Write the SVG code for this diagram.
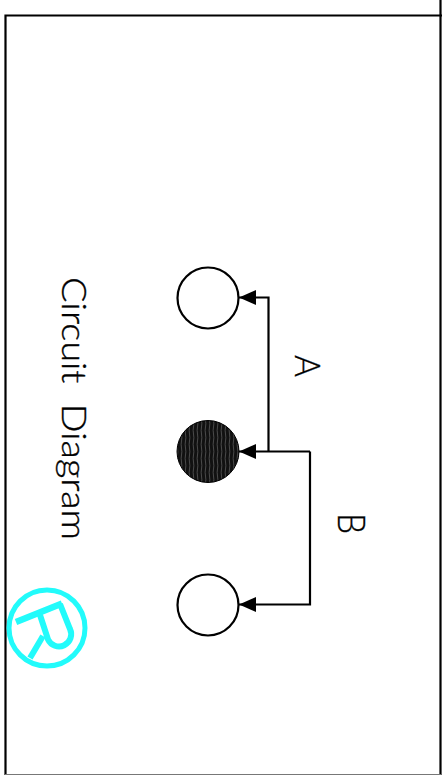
<svg xmlns="http://www.w3.org/2000/svg" width="446" height="775" viewBox="0 0 446 775">
<style>
.wire{fill:none;stroke:#000;stroke-width:2.200}
.node{fill:#fff;stroke:#000;stroke-width:2.200}
.lbl{font-family:"Lato","Liberation Sans",sans-serif;font-weight:300;fill:#000;stroke:#000;stroke-width:0.350}
.r{fill:none;stroke:#22fbfb}
</style>
<defs>
<marker id="arrow" markerUnits="userSpaceOnUse" markerWidth="18" markerHeight="16" refX="17" refY="8" orient="auto"><path d="M0 0.500L17 8L0 15.500Z" fill="#000"/></marker>
<pattern id="hatch" width="4" height="14" patternUnits="userSpaceOnUse"><rect width="4" height="14" fill="#111"/><path d="M1.500 0Q2.200 4 1.500 7T1.500 14" fill="none" stroke="#4a4a4a" stroke-width="1"/></pattern>
</defs>
<rect width="446" height="775" fill="#fff"/>
<g id="frame">
<path d="M5.500 775V15.500H442" fill="none" stroke="#000" stroke-width="2.200"/>
<path d="M440.500 0V775" fill="none" stroke="#000" stroke-width="2.200"/>
<path d="M5 774.500H441" fill="none" stroke="#777" stroke-width="1"/>
</g>
<g id="connectors">
<path class="wire" d="M268.500 451.500V297.500H239" marker-end="url(#arrow)"/>
<path class="wire" d="M310 451.500H239" marker-end="url(#arrow)"/>
<path class="wire" d="M310 451.500V604.500H239" marker-end="url(#arrow)"/>
</g>
<g id="node-top"><circle class="node" cx="208" cy="298" r="30.500"/></g>
<g id="node-mid"><circle cx="208" cy="451.500" r="31" fill="url(#hatch)" stroke="#000" stroke-width="1"/></g>
<g id="node-bottom"><circle class="node" cx="208" cy="605" r="30.500"/></g>
<g id="title"><text class="lbl" transform="translate(62 277) rotate(90)" font-size="33" textLength="263" lengthAdjust="spacingAndGlyphs" xml:space="preserve">Circuit  Diagram</text></g>
<g id="label-a"><text class="lbl" transform="translate(295 355) rotate(90)" font-size="36" textLength="22" lengthAdjust="spacingAndGlyphs">A</text></g>
<g id="label-b"><text class="lbl" transform="translate(338 513) rotate(90)" font-size="37" textLength="21" lengthAdjust="spacingAndGlyphs">B</text></g>
<g id="logo">
<circle class="r" cx="47" cy="628" r="38" stroke-width="5"/>
<path class="r" stroke-width="6.500" d="M16 622L62 603.500"/>
<path class="r" stroke-width="6" d="M60 604L70 629A11.500 11.500 0 0 1 48 639.500L40 615"/>
<path class="r" stroke-width="6" d="M43 636L30 658"/>
</g>
</svg>
